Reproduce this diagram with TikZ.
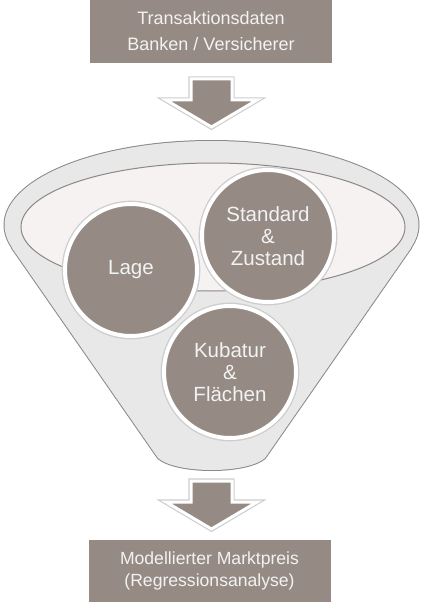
\documentclass[tikz,border=0pt]{standalone}
\usepackage{fontspec}
\setmainfont{Liberation Sans}

\definecolor{boxc}{RGB}{150,139,132}
\definecolor{txtc}{RGB}{242,242,242}
\definecolor{funnelfill}{RGB}{232,232,232}
\definecolor{funnelline}{RGB}{140,136,133}
\definecolor{innerfill}{RGB}{247,242,242}
\definecolor{glowc}{RGB}{205,205,205}

\tikzset{every picture/.style={line width=0.75pt}}
\tikzset{
  box/.style={fill=boxc, text=txtc, inner sep=0pt, align=center, minimum width=181.5pt},
  ball/.style={circle, fill=boxc, draw=white, line width=3pt, minimum size=99pt, inner sep=0pt,
    text=txtc, align=center, font=\fontsize{15.4}{16.5}\selectfont,
    preaction={draw=glowc, line width=5pt}},
  blockarrow/.style={fill=boxc, draw=white, line width=2.25pt, line join=miter,
    preaction={draw=glowc, line width=4pt}}
}

\begin{document}
\begin{tikzpicture}[x=0.75pt,y=0.75pt,yscale=-1,xscale=1]
\useasboundingbox (0,0) rectangle (421,602);

%Shape: Funnel (rim and body, strokes first)
\draw [draw=funnelline, fill=funnelfill, line width=1.5pt, line join=round] (211.5,225) ellipse [x radius=207, y radius=84];
\draw [draw=funnelline, fill=funnelfill, line width=1.5pt, line join=round] (12,248) -- (158,458) .. controls (176,474) and (247,474) .. (265,458) -- (411,248) -- cycle;
%Shape: Funnel (cover inner strokes)
\fill [funnelfill] (12,248) -- (158,458) .. controls (176,474) and (247,474) .. (265,458) -- (411,248) -- cycle;
\fill [funnelfill] (211.5,225) ellipse [x radius=207, y radius=84];
%Shape: Ellipse (opening)
\draw [draw=funnelline, fill=innerfill, line width=0.75pt] (213,227) ellipse [x radius=192, y radius=64];

%Shape: Circles
\node (lage) [ball] at (131,270) {Lage};
\node (standard) [ball] at (268,236) {Standard\\\&\\Zustand};
\node (kubatur) [ball] at (230,372) {Kubatur\\\&\\Flächen};

%Shape: Rectangle (input)
\node (daten) [box, minimum height=47.25pt, font=\fontsize{13.5}{19.5}\selectfont] at (211,31.5) {Transaktionsdaten\\Banken / Versicherer};
%Shape: Rectangle (output)
\node (preis) [box, minimum height=46.5pt, font=\fontsize{13.2}{16.5}\selectfont] at (209.5,571) {Modellierter Marktpreis\\(Regressionsanalyse)};

%Shape: Down Arrow (input to funnel)
\draw [blockarrow] (191,79) -- (232,79) -- (232,100) -- (257,100) -- (211.5,127) -- (166,100) -- (191,100) -- cycle;
%Shape: Down Arrow (funnel to output)
\draw [blockarrow] (191,481) -- (232,481) -- (232,502) -- (257,502) -- (211.5,529) -- (166,502) -- (191,502) -- cycle;

\end{tikzpicture}
\end{document}
